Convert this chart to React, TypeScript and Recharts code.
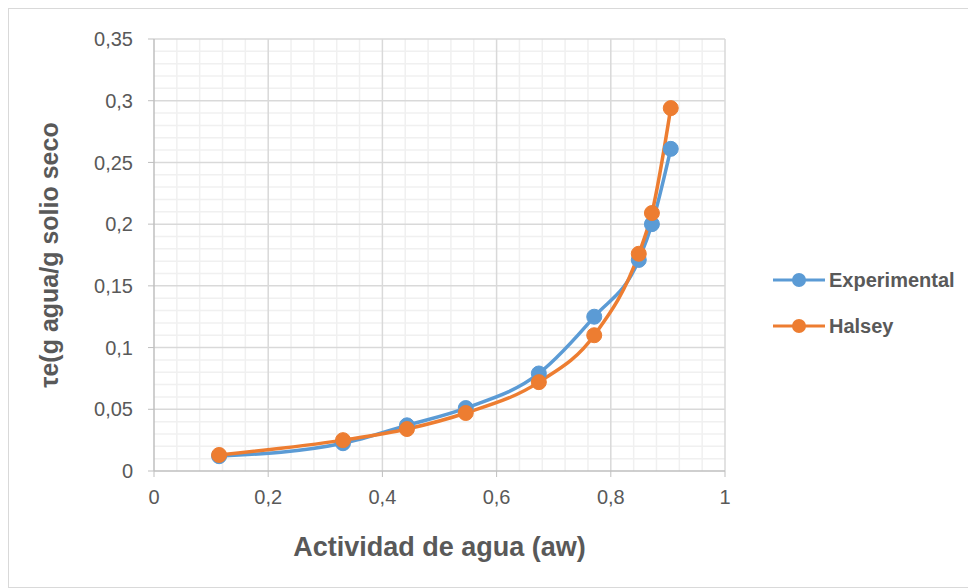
import { LineChart, Line, XAxis, YAxis, ReferenceLine } from "recharts";

const aw = [0.114, 0.331, 0.443, 0.546, 0.674, 0.771, 0.849, 0.872, 0.905];
const experimental = [0.012, 0.0225, 0.037, 0.051, 0.079, 0.125, 0.171, 0.2, 0.261];
const halsey = [0.013, 0.025, 0.034, 0.047, 0.072, 0.11, 0.176, 0.209, 0.294];

const xTicks = [0, 0.2, 0.4, 0.6, 0.8, 1];
const yTicks = [0, 0.05, 0.1, 0.15, 0.2, 0.25, 0.3, 0.35];

const BLUE = "#5b9bd5";
const ORANGE = "#ed7d31";
const TEXT = "#595959";
const FONT = "'Liberation Sans', Arial, sans-serif";

const data = aw.map((x, i) => ({ aw: x, experimental: experimental[i], halsey: halsey[i] }));

// minor grid steps (Excel-style): 0.04 on x, 0.01 on y
const xMinor = Array.from({ length: 25 }, (_, i) => +(i * 0.04).toFixed(2)).filter(
  (v) => !xTicks.some((t) => Math.abs(t - v) < 1e-6)
);
const yMinor = Array.from({ length: 35 }, (_, i) => +(i * 0.01).toFixed(2)).filter(
  (v) => !yTicks.some((t) => Math.abs(t - v) < 1e-6)
);

const fmt = (v: number) => String(v).replace(".", ",");

const series = [
  { name: "Experimental", color: BLUE },
  { name: "Halsey", color: ORANGE },
];

function LegendBox() {
  return (
    <div style={{ position: "absolute", left: 762, top: 248, fontFamily: FONT }}>
      {series.map((s) => (
        <div key={s.name} style={{ display: "flex", alignItems: "center", height: 46 }}>
          <svg width={56} height={16}>
            <line x1={2} y1={8} x2={54} y2={8} stroke={s.color} strokeWidth={3} />
            <circle cx={28} cy={8} r={7} fill={s.color} />
          </svg>
          <span style={{ fontWeight: 700, fontSize: 20, color: TEXT, marginLeft: 2 }}>{s.name}</span>
        </div>
      ))}
    </div>
  );
}

export default function App() {
  return (
    <div
      style={{
        position: "relative",
        width: 966,
        height: 578,
        border: "1px solid #d9d9d9",
        background: "#fff",
      }}
    >
      <LineChart
        width={966}
        height={578}
        data={data}
        margin={{ top: 30, right: 250, bottom: 36, left: 0 }}
      >
        <XAxis
          dataKey="aw"
          type="number"
          domain={[0, 1]}
          ticks={xTicks}
          tickFormatter={fmt}
          height={80}
          axisLine={{ stroke: "#bfbfbf", strokeWidth: 1.5 }}
          tickLine={{ stroke: "#bfbfbf" }}
          tickSize={6}
          tickMargin={13}
          tick={{ fill: TEXT, fontSize: 20, fontFamily: FONT }}
          label={{
            value: "Actividad de agua (aw)",
            position: "insideBottom",
            offset: -5,
            style: { fill: TEXT, fontSize: 27, fontWeight: 700, fontFamily: FONT },
          }}
        />
        <YAxis
          type="number"
          domain={[0, 0.35]}
          ticks={yTicks}
          tickFormatter={fmt}
          width={145}
          axisLine={{ stroke: "#bfbfbf", strokeWidth: 1.5 }}
          tickLine={{ stroke: "#bfbfbf" }}
          tickSize={6}
          tickMargin={15}
          tick={{ fill: TEXT, fontSize: 20, fontFamily: FONT }}
          label={{
            value: "τe(g agua/g solio seco",
            angle: -90,
            position: "insideLeft",
            offset: 40,
            style: { fill: TEXT, fontSize: 25, fontWeight: 700, fontFamily: FONT, textAnchor: "middle" },
          }}
        />
        {xMinor.map((v) => (
          <ReferenceLine key={"xm" + v} x={v} stroke="#f0f0f0" strokeWidth={1.5} />
        ))}
        {yMinor.map((v) => (
          <ReferenceLine key={"ym" + v} y={v} stroke="#f0f0f0" strokeWidth={1.5} />
        ))}
        {xTicks.slice(1).map((v) => (
          <ReferenceLine key={"xM" + v} x={v} stroke="#d9d9d9" strokeWidth={1.5} />
        ))}
        {yTicks.slice(1).map((v) => (
          <ReferenceLine key={"yM" + v} y={v} stroke="#d9d9d9" strokeWidth={1.5} />
        ))}
        <Line
          dataKey="experimental"
          name="Experimental"
          type="monotone"
          stroke={BLUE}
          strokeWidth={3.5}
          dot={{ r: 7.5, fill: BLUE, stroke: BLUE, strokeWidth: 1 }}
          activeDot={false}
          isAnimationActive={false}
        />
        <Line
          dataKey="halsey"
          name="Halsey"
          type="monotone"
          stroke={ORANGE}
          strokeWidth={3.5}
          dot={{ r: 7.5, fill: ORANGE, stroke: ORANGE, strokeWidth: 1 }}
          activeDot={false}
          isAnimationActive={false}
        />
      </LineChart>
      <LegendBox />
    </div>
  );
}
